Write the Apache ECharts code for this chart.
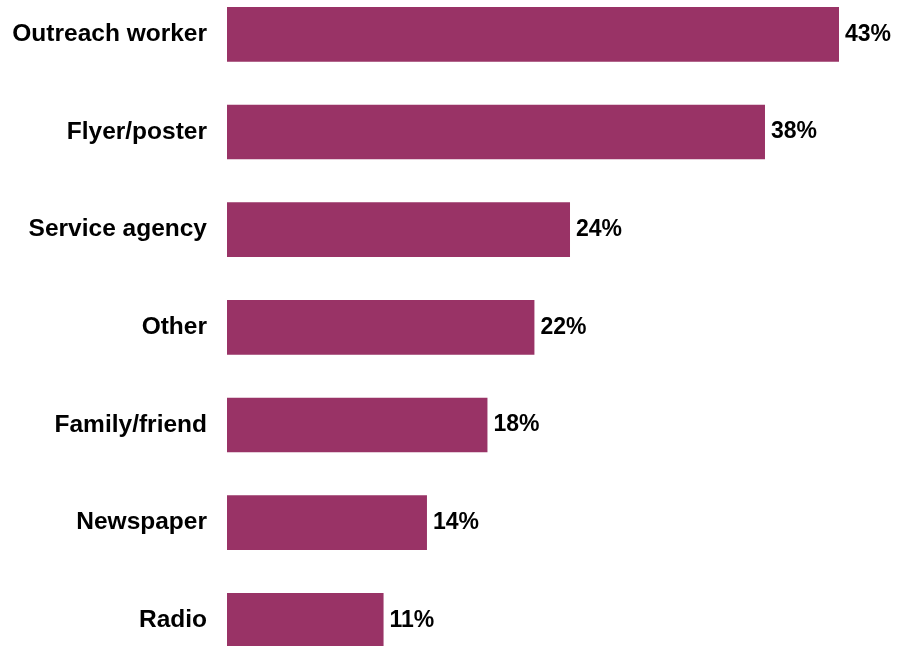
<!DOCTYPE html>
<html>
<head>
<meta charset="utf-8">
<script src="https://cdn.jsdelivr.net/npm/echarts@6/dist/echarts.min.js"></script>
<style>
  html, body { margin: 0; padding: 0; background: #fff; }
  #chart { width: 899px; height: 646px; }
</style>
</head>
<body>
<div id="chart"></div>
<script>
// categories, top to bottom
const categories = ['Outreach worker', 'Flyer/poster', 'Service agency', 'Other', 'Family/friend', 'Newspaper', 'Radio']
// share of respondents (%)
const shares = [43, 37.8, 24.1, 21.6, 18.3, 14.05, 11.0]

const myChart = echarts.init(document.getElementById('chart'))
const font = 'Liberation Sans, Arial, sans-serif'

myChart.setOption({
  animation: false,
  grid: {
    left: 227,
    right: 60,
    top: -14.5,
    height: 683.7,
    outerBoundsMode: 'none',
    containLabel: false,
  },
  xAxis: {
    type: 'value',
    min: 0,
    max: 'dataMax',
    show: false,
  },
  yAxis: {
    type: 'category',
    inverse: true,
    data: categories,
    axisLine: { show: false },
    axisTick: { show: false },
    axisLabel: {
      margin: 20,
      color: '#000',
      fontFamily: font,
      fontWeight: 'bold',
      fontSize: 24.5,
    },
  },
  series: [
    {
      type: 'bar',
      data: shares,
      barCategoryGap: '44%',
      itemStyle: { color: '#993366' },
      label: {
        show: true,
        position: 'right',
        distance: 6,
        color: '#000',
        fontFamily: font,
        fontWeight: 'bold',
        fontSize: 23,
        formatter: (p) => Math.round(p.value) + '%',
      },
    },
  ],
})
</script>
</body>
</html>
